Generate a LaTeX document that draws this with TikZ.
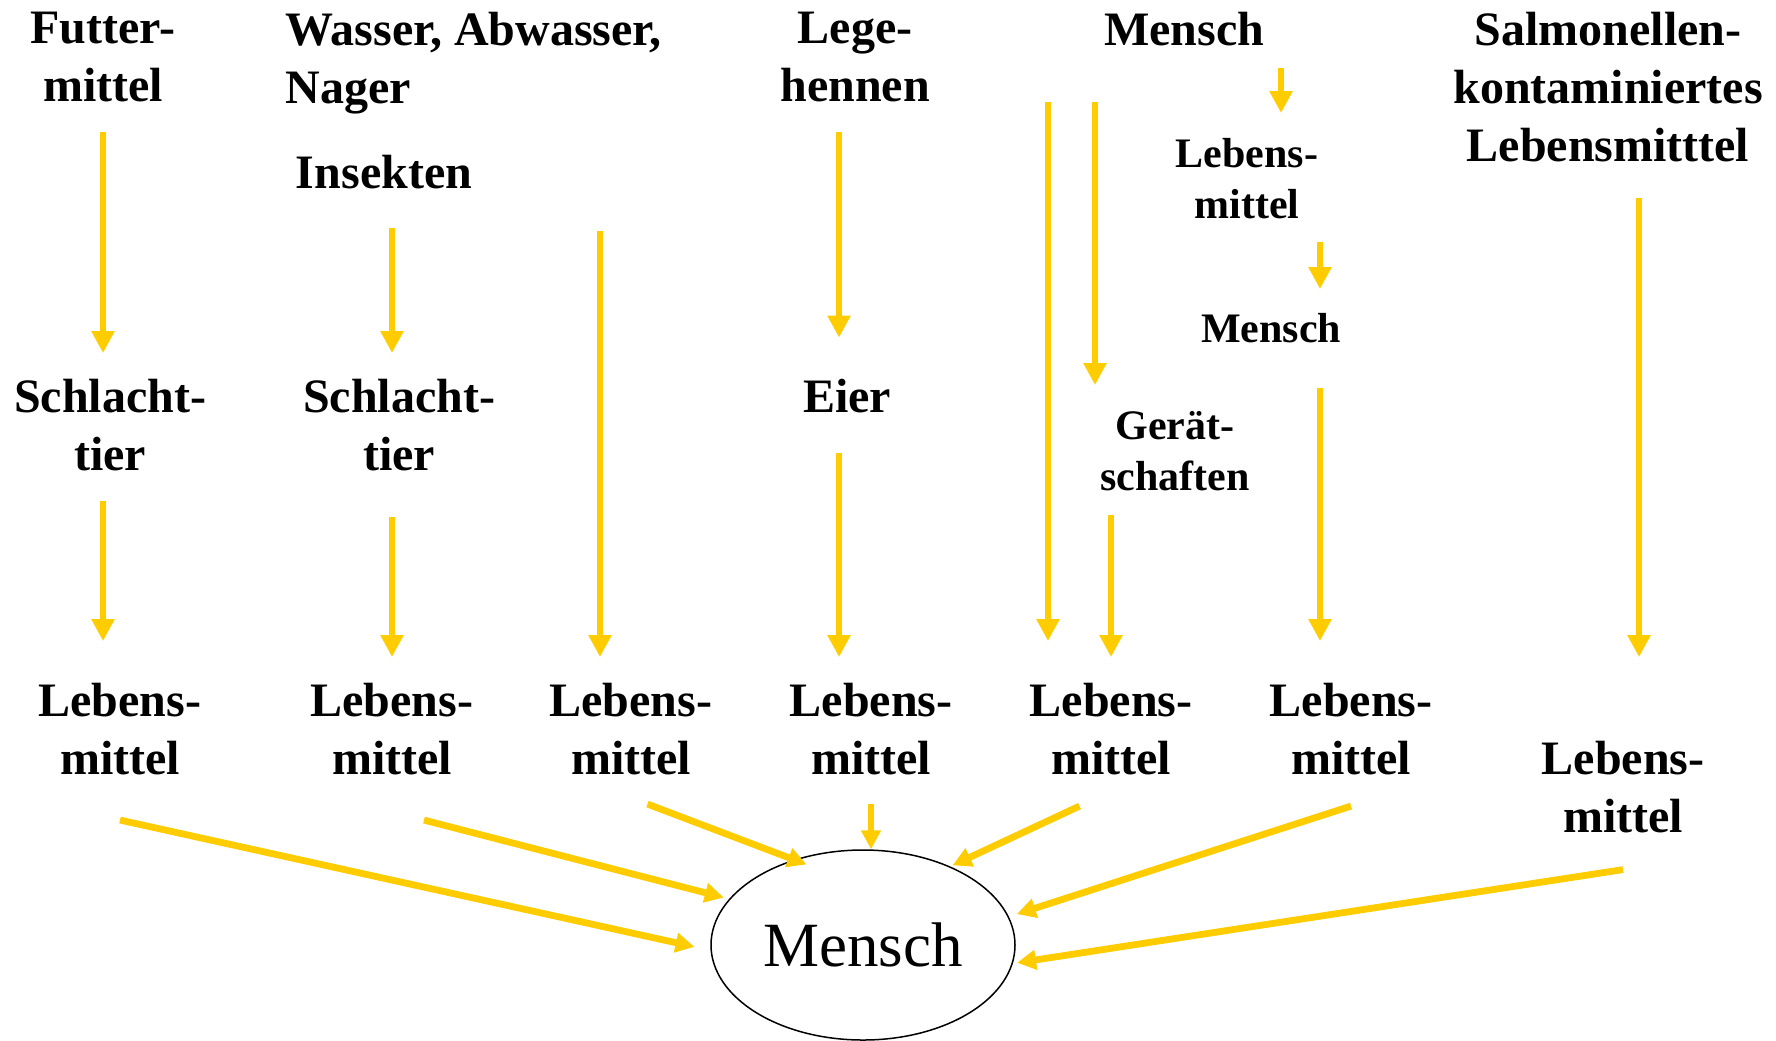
\documentclass[tikz,border=0pt]{standalone}
\usepackage{fontspec}
\setmainfont{Liberation Serif}
\usetikzlibrary{arrows.meta,shapes.geometric}
\definecolor{gelb}{HTML}{FFCC00}

\begin{document}
\begin{tikzpicture}[x=0.5pt, y=-0.5pt]
  \tikzset{lab/.style={font=\bfseries\fontsize{24}{29}\selectfont, align=center, inner sep=0pt, anchor=north},
    labsmall/.style={lab, font=\bfseries\fontsize{21}{25.5}\selectfont},
    flow/.style={draw=gelb, line width=3.4pt, -{Triangle[length=11pt,width=11pt]}},
    flowin/.style={flow, -{Triangle[length=9.5pt,width=9.5pt]}}}
  \useasboundingbox (0,0) rectangle (1776,1040);

  \node[lab] (futter) at (103,12) {Futter-\\mittel};
  \node[lab, anchor=north west, align=left] (wasser) at (285,12) {Wasser, Abwasser,\\Nager};
  \node[lab] (insekten) at (384,155) {Insekten};
  \node[lab] (lege) at (855,12) {Lege-\\hennen};
  \node[lab] (menscht) at (1184,12) {Mensch};
  \node[lab] (salm) at (1608,12) {Salmonellen-\\kontaminiertes\\Lebensmitttel};
  \node[labsmall] (lebs) at (1247,138) {Lebens-\\mittel};
  \node[labsmall] (menschm) at (1271,313) {Mensch};
  \node[labsmall] (geraet) at (1175,411) {Gerät-\\schaften};
  \node[lab] (schl1) at (110,379) {Schlacht-\\tier};
  \node[lab] (schl2) at (399,379) {Schlacht-\\tier};
  \node[lab] (eier) at (847,379) {Eier};
  \node[lab] (leb1) at (120,683) {Lebens-\\mittel};
  \node[lab] (leb2) at (392,683) {Lebens-\\mittel};
  \node[lab] (leb3) at (631,683) {Lebens-\\mittel};
  \node[lab] (leb4) at (871,683) {Lebens-\\mittel};
  \node[lab] (leb5) at (1111,683) {Lebens-\\mittel};
  \node[lab] (leb6) at (1351,683) {Lebens-\\mittel};
  \node[lab] (leb7) at (1623,741) {Lebens-\\mittel};
  \node[draw, ellipse, line width=0.75pt, minimum width=152pt, minimum height=95pt, inner sep=0pt,
    font=\fontsize{31.5}{38}\selectfont] (mensch) at (863,945) {Mensch};

  \draw[flow, shorten <=14.5pt, shorten >=13pt] (futter.south) -- (futter.south |- schl1.north);
  \draw[flow, shorten <=14.7pt, shorten >=21pt] ([xshift=-3.5pt]schl1.south) -- ([xshift=-3.5pt]schl1.south |- leb1.north);
  \draw[flow, shorten <=19.25pt, shorten >=13pt] ([xshift=4pt]insekten.south) -- ([xshift=4pt]insekten.south |- schl2.north);
  \draw[flow, shorten <=22.5pt, shorten >=13pt] ([xshift=-3.5pt]schl2.south) -- ([xshift=-3.5pt]schl2.south |- leb2.north);
  \draw[flow, shorten <=58pt, shorten >=13pt] ([xshift=-15.5pt]leb3.north |- wasser.south) -- ([xshift=-15.5pt]leb3.north);
  \draw[flow, shorten <=14.5pt, shorten >=20.75pt] ([xshift=-8pt]lege.south) -- ([xshift=-8pt]lege.south |- eier.north);
  \draw[flow, shorten <=19.5pt, shorten >=13pt] ([xshift=-4pt]eier.south) -- ([xshift=-4pt]eier.south |- leb4.north);
  \draw[flow, shorten <=27.75pt, shorten >=21pt] ([xshift=-31.5pt]leb5.north |- menscht.south) -- ([xshift=-31.5pt]leb5.north);
  \draw[flow, shorten <=27.75pt, shorten >=13pt] ([xshift=-40pt]geraet.north |- menscht.south) -- ([xshift=-40pt]geraet.north);
  \draw[flow, shorten <=12pt, shorten >=13pt] (leb5.north |- geraet.south) -- (leb5.north);
  \draw[flow, shorten <=10.75pt, shorten >=12.5pt] ([xshift=17pt]lebs.north |- menscht.south) -- ([xshift=17pt]lebs.north);
  \draw[flow, shorten <=11.5pt, shorten >=12pt] ([xshift=24.5pt]menschm.north |- lebs.south) -- ([xshift=24.5pt]menschm.north);
  \draw[flow, shorten <=22.5pt, shorten >=21pt] ([xshift=24.5pt]menschm.south) -- ([xshift=24.5pt]menschm.south |- leb6.north);
  \draw[flow, shorten <=17.5pt, shorten >=42pt] ([xshift=15.5pt]salm.south) -- ([xshift=15.5pt]salm.south |- leb7.north);

  \draw[flowin, shorten >=8.2pt] ([shift={(0,44.5)}]leb1.south) -- (mensch.182);
  \draw[flowin, shorten >=2.75pt] ([shift={(32,44.5)}]leb2.south) -- (mensch.161);
  \draw[flowin, shorten >=-6.75pt] ([shift={(16.5,28.5)}]leb3.south) -- (mensch.129);
  \draw[flowin] ([shift={(0,28.5)}]leb4.south) -- (leb4.south |- mensch.north);
  \draw[flowin, shorten >=1.25pt] ([shift={(-31.5,30.5)}]leb5.south) -- (mensch.42);
  \draw[flowin, shorten >=4.15pt] ([shift={(0,30.5)}]leb6.south) -- (mensch.11);
  \draw[flowin, shorten >=2.1pt] ([shift={(0,36)}]leb7.south) -- (mensch.353);
\end{tikzpicture}
\end{document}
